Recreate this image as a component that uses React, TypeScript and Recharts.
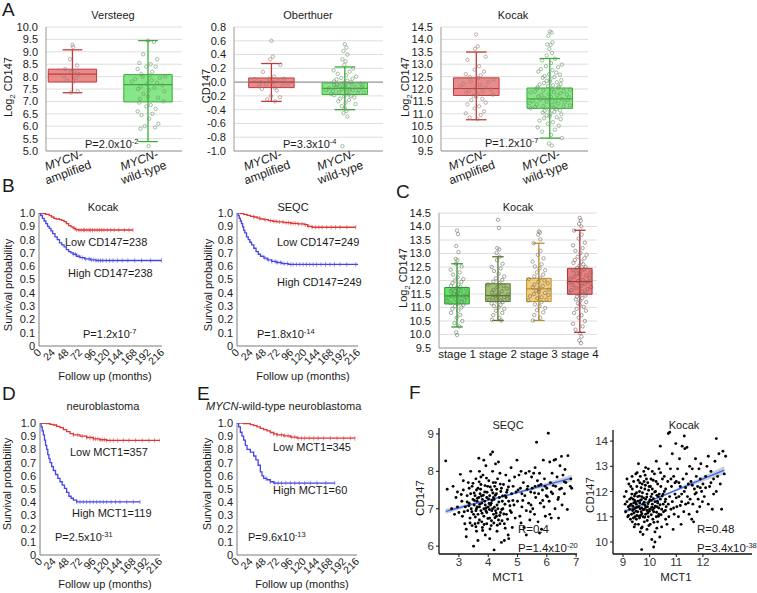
import React from 'react';
import {
  ComposedChart,
  XAxis,
  YAxis,
  CartesianGrid,
  Scatter,
  Line,
  Area,
  ReferenceArea,
  ReferenceLine,
} from 'recharts';

const FONT = '"Liberation Sans", Arial, sans-serif';

// ---------- A: CD147 by MYCN status ----------
const mycnGroups = ['amplified', 'wild-type'];

const versteegStats = [
  { lo: 7.35, q1: 7.78, med: 8.1, q3: 8.3, hi: 9.08 },
  { lo: 5.38, q1: 6.98, med: 7.68, q3: 8.08, hi: 9.45 },
];
const versteegAmp = [9.28, 9.2, 8.7, 8.45, 8.3, 8.22, 8.18, 8.1, 8.02, 7.95, 7.85, 7.8, 7.4, 7.35];
const versteegWt = [
  9.45, 9.4, 8.9, 8.7, 8.55, 8.5, 8.4, 8.4, 8.3, 8.2, 8.1, 8.05, 8.0, 8.0, 7.95, 7.9, 7.85, 7.8,
  7.75, 7.7, 7.65, 7.6, 7.55, 7.5, 7.45, 7.4, 7.3, 7.2, 7.15, 7.1, 7.0, 6.95, 6.85, 6.8, 6.7, 6.6,
  6.5, 6.45, 6.3, 6.1, 6.0, 5.95, 5.9, 5.2,
];

const oberthuerStats = [
  { lo: -0.28, q1: -0.08, med: 0.0, q3: 0.06, hi: 0.27 },
  { lo: -0.4, q1: -0.18, med: -0.09, q3: -0.01, hi: 0.22 },
];
const oberthuerAmp = [
  0.6, 0.37, 0.33, 0.25, 0.15, 0.08, 0.05, 0.05, 0.04, 0.02, 0.0, 0.0, -0.02, -0.03, -0.05, -0.06,
  -0.08, -0.1, -0.12, -0.2, -0.22, -0.25, -0.28,
];
const oberthuerWt = [
  0.55, 0.5, 0.45, 0.4, 0.33, 0.3, 0.25, 0.2, 0.17, 0.15, 0.12, 0.1, 0.08, 0.06, 0.05, 0.04, 0.02,
  0.01, 0.0, -0.01, -0.02, -0.03, -0.03, -0.04, -0.05, -0.05, -0.06, -0.07, -0.07, -0.08, -0.08,
  -0.09, -0.1, -0.1, -0.11, -0.12, -0.12, -0.13, -0.14, -0.15, -0.15, -0.16, -0.17, -0.18, -0.19,
  -0.2, -0.21, -0.22, -0.24, -0.26, -0.28, -0.3, -0.32, -0.35, -0.38, -0.42, -0.45, -0.5, -0.93,
];

const kocakStats = [
  { lo: 10.76, q1: 11.74, med: 12.02, q3: 12.45, hi: 13.49 },
  { lo: 10.02, q1: 11.22, med: 11.6, q3: 12.04, hi: 13.23 },
];
const kocakAmp = [
  14.2, 13.72, 13.62, 13.3, 13.18, 12.92, 12.78, 12.7, 12.6, 12.55, 12.48, 12.44, 12.38, 12.3, 12.27,
  12.2, 12.16, 12.1, 12.06, 12.02, 11.98, 11.93, 11.9, 11.86, 11.8, 11.77, 11.72, 11.68, 11.6, 11.55,
  11.45, 11.38, 11.3, 11.22, 11.1, 11.02, 10.95, 10.85, 10.78,
];
const kocakWt = [
  14.32, 14.28, 14.15, 13.88, 13.8, 13.78, 13.62, 13.45, 13.35, 13.22, 13.15, 13.05, 12.98, 12.92,
  12.88, 12.8, 12.76, 12.7, 12.66, 12.6, 12.58, 12.52, 12.48, 12.45, 12.4, 12.36, 12.33, 12.3, 12.27,
  12.24, 12.2, 12.18, 12.15, 12.12, 12.1, 12.07, 12.04, 12.02, 12.0, 11.97, 11.95, 11.92, 11.9,
  11.88, 11.86, 11.83, 11.8, 11.78, 11.76, 11.73, 11.7, 11.68, 11.66, 11.63, 11.61, 11.6, 11.57,
  11.55, 11.52, 11.5, 11.48, 11.46, 11.43, 11.41, 11.38, 11.36, 11.34, 11.31, 11.29, 11.27, 11.24,
  11.22, 11.2, 11.17, 11.14, 11.12, 11.08, 11.05, 11.02, 10.98, 10.94, 10.9, 10.86, 10.82, 10.78,
  10.72, 10.66, 10.6, 10.52, 10.45, 10.36, 10.28, 10.15, 10.02, 9.8, 9.72,
];

// ---------- C: CD147 by stage (Kocak) ----------
const stages = ['stage 1', 'stage 2', 'stage 3', 'stage 4'];
const stageStats = [
  { lo: 10.28, q1: 11.13, med: 11.43, q3: 11.74, hi: 12.62 },
  { lo: 10.52, q1: 11.22, med: 11.44, q3: 11.88, hi: 12.88 },
  { lo: 10.52, q1: 11.22, med: 11.69, q3: 12.08, hi: 13.38 },
  { lo: 10.08, q1: 11.49, med: 11.96, q3: 12.45, hi: 13.86 },
];
const stage1 = [
  13.85, 13.72, 13.28, 13.05, 12.8, 12.75, 12.62, 12.52, 12.4, 12.3, 12.22, 12.12, 12.05, 12.0, 11.95,
  11.9, 11.85, 11.8, 11.76, 11.72, 11.7, 11.66, 11.62, 11.6, 11.56, 11.52, 11.5, 11.47, 11.44, 11.42,
  11.39, 11.36, 11.33, 11.3, 11.27, 11.24, 11.2, 11.17, 11.14, 11.1, 11.05, 11.0, 10.95, 10.88, 10.8,
  10.72, 10.62, 10.5, 10.42, 10.3, 10.08, 9.98,
];
const stage2 = [
  14.25, 13.95, 13.2, 13.15, 13.02, 12.88, 12.75, 12.62, 12.5, 12.45, 12.35, 12.25, 12.15, 12.08,
  12.02, 11.96, 11.9, 11.85, 11.8, 11.75, 11.7, 11.65, 11.6, 11.55, 11.5, 11.47, 11.44, 11.41, 11.38,
  11.35, 11.32, 11.29, 11.26, 11.23, 11.2, 11.15, 11.1, 11.05, 11.0, 10.95, 10.88, 10.8, 10.72, 10.62,
  10.55, 10.52,
];
const stage3 = [
  13.82, 13.78, 13.7, 13.52, 13.38, 13.1, 12.95, 12.82, 12.7, 12.6, 12.52, 12.45, 12.38, 12.3, 12.22,
  12.15, 12.1, 12.05, 12.0, 11.95, 11.9, 11.85, 11.8, 11.75, 11.7, 11.66, 11.62, 11.58, 11.54, 11.5,
  11.46, 11.42, 11.38, 11.34, 11.3, 11.26, 11.2, 11.12, 11.05, 10.98, 10.9, 10.82, 10.72, 10.62, 10.52,
];
const stage4 = [
  14.32, 14.22, 14.1, 14.0, 13.85, 13.7, 13.55, 13.4, 13.3, 13.2, 13.1, 13.02, 12.95, 12.88, 12.82,
  12.76, 12.7, 12.65, 12.6, 12.55, 12.5, 12.46, 12.42, 12.38, 12.34, 12.3, 12.26, 12.22, 12.18, 12.14,
  12.1, 12.06, 12.02, 11.98, 11.95, 11.92, 11.88, 11.84, 11.8, 11.76, 11.72, 11.68, 11.64, 11.6,
  11.56, 11.52, 11.48, 11.44, 11.4, 11.35, 11.3, 11.25, 11.2, 11.15, 11.1, 11.02, 10.95, 10.88, 10.8,
  10.72, 10.62, 10.5, 10.4, 10.3, 10.18, 10.05, 9.92, 9.78, 9.68,
];

// ---------- B, D, E: Kaplan-Meier curves [month, survival] ----------
const kmMonths = [0, 24, 48, 72, 96, 120, 144, 168, 192, 216];
const kmProb = [0, 0.1, 0.2, 0.3, 0.4, 0.5, 0.6, 0.7, 0.8, 0.9, 1.0];

const kocakLow = [
  [0, 1], [5, 0.995], [12, 0.99], [18, 0.98], [22, 0.97], [26, 0.96], [30, 0.955], [36, 0.95],
  [40, 0.945], [44, 0.935], [48, 0.92], [52, 0.905], [56, 0.895], [60, 0.885], [64, 0.875],
  [70, 0.872], [165, 0.872],
];
const kocakLowCens = [62, 66, 70, 74, 78, 80, 84, 88, 90, 94, 98, 102, 106, 110, 114, 120, 126, 132, 140, 150, 158, 165];
const kocakHigh = [
  [0, 1], [3, 0.98], [6, 0.96], [9, 0.94], [12, 0.92], [15, 0.9], [18, 0.885], [21, 0.865],
  [24, 0.845], [28, 0.82], [32, 0.8], [36, 0.775], [40, 0.76], [44, 0.745], [48, 0.725], [52, 0.71],
  [56, 0.7], [60, 0.69], [66, 0.675], [72, 0.665], [80, 0.655], [90, 0.648], [100, 0.643], [215, 0.643],
];
const kocakHighCens = [60, 64, 70, 76, 82, 88, 92, 96, 100, 104, 108, 112, 118, 124, 130, 138, 146, 156, 168, 180, 196, 215];

const seqcLow = [
  [0, 1], [6, 0.995], [12, 0.99], [18, 0.982], [24, 0.975], [30, 0.97], [36, 0.962], [42, 0.955],
  [48, 0.95], [56, 0.942], [64, 0.937], [72, 0.933], [84, 0.928], [96, 0.922], [108, 0.918],
  [120, 0.912], [126, 0.9], [134, 0.893], [212, 0.893],
];
const seqcLowCens = [30, 40, 50, 60, 66, 70, 76, 82, 88, 92, 96, 100, 104, 110, 116, 122, 128, 134, 140, 146, 152, 160, 168, 176, 184, 196, 212];
const seqcHigh = [
  [0, 1], [2, 0.98], [4, 0.96], [6, 0.94], [8, 0.92], [10, 0.895], [12, 0.87], [14, 0.85], [17, 0.82],
  [20, 0.8], [23, 0.78], [26, 0.76], [30, 0.735], [34, 0.71], [38, 0.69], [42, 0.675], [48, 0.66],
  [54, 0.648], [62, 0.636], [70, 0.628], [80, 0.62], [92, 0.613], [216, 0.613],
];
const seqcHighCens = [50, 56, 62, 68, 72, 78, 84, 90, 96, 100, 106, 112, 118, 124, 130, 136, 142, 150, 158, 166, 174, 184, 196, 212];

const nbLow = [
  [0, 1], [6, 0.998], [12, 0.995], [18, 0.99], [24, 0.985], [30, 0.975], [36, 0.965], [42, 0.95],
  [48, 0.935], [54, 0.92], [60, 0.91], [72, 0.9], [84, 0.89], [96, 0.88], [108, 0.873], [120, 0.868],
  [216, 0.868],
];
const nbLowCens = [60, 68, 76, 84, 90, 96, 100, 104, 108, 112, 116, 120, 126, 132, 140, 150, 160, 172, 184, 196, 206, 216];
const nbHigh = [
  [0, 1], [2, 0.97], [4, 0.94], [6, 0.91], [8, 0.87], [10, 0.83], [12, 0.8], [14, 0.76], [16, 0.73],
  [18, 0.7], [21, 0.67], [24, 0.64], [28, 0.61], [32, 0.58], [36, 0.555], [40, 0.53], [44, 0.505],
  [48, 0.475], [52, 0.445], [56, 0.43], [60, 0.415], [66, 0.402], [180, 0.402],
];
const nbHighCens = [66, 72, 78, 84, 90, 96, 102, 108, 114, 120, 128, 136, 144, 156, 168, 180];

const wtLow = [
  [0, 1], [12, 0.995], [24, 0.988], [30, 0.98], [36, 0.97], [42, 0.96], [48, 0.95], [54, 0.94],
  [60, 0.928], [66, 0.918], [72, 0.91], [84, 0.903], [96, 0.893], [108, 0.885], [212, 0.882],
];
const wtLowCens = [66, 72, 80, 86, 92, 98, 104, 110, 116, 122, 130, 138, 146, 156, 168, 180, 192, 204, 212];
const wtHigh = [
  [0, 1], [3, 0.97], [6, 0.93], [9, 0.9], [12, 0.87], [15, 0.83], [18, 0.8], [24, 0.78], [30, 0.75],
  [34, 0.72], [38, 0.68], [42, 0.63], [45, 0.6], [48, 0.58], [54, 0.57], [60, 0.555], [66, 0.545],
  [176, 0.545],
];
const wtHighCens = [52, 60, 68, 74, 80, 88, 96, 104, 112, 122, 132, 144, 160, 176];

// ---------- F: CD147 vs MCT1 ----------
const seqcPts = [
  [2.55, 8.28], [2.6, 7.52], [2.75, 7.0], [2.85, 6.85], [2.9, 7.3], [2.95, 7.05], [2.8, 7.6], [3.0, 6.9], [2.95, 7.45],
  [3.05, 7.92], [3.1, 7.2], [3.12, 6.8], [3.15, 7.5], [3.2, 6.6], [3.22, 7.05], [3.25, 6.45], [3.28, 7.35],
  [3.3, 6.95], [3.32, 7.7], [3.35, 7.15], [3.38, 6.75], [3.4, 7.4], [3.42, 7.0], [3.45, 6.55], [3.45, 7.6],
  [3.48, 7.25], [3.5, 6.85], [3.5, 6.0], [3.25, 6.25], [3.35, 7.55], [3.15, 7.75], [3.4, 8.0],
  [3.52, 7.1], [3.55, 7.35], [3.55, 6.6], [3.58, 7.8], [3.6, 7.0], [3.6, 6.4], [3.62, 7.2], [3.65, 6.85],
  [3.65, 7.55], [3.68, 8.35], [3.7, 7.05], [3.7, 6.7], [3.72, 7.4], [3.75, 6.95], [3.75, 7.65], [3.78, 7.15],
  [3.8, 6.5], [3.8, 7.25], [3.82, 7.9], [3.85, 7.0], [3.85, 6.8], [3.88, 7.45], [3.9, 7.1], [3.9, 6.3],
  [3.92, 8.15], [3.95, 7.3], [3.95, 6.9], [3.98, 7.6], [3.7, 8.0], [3.6, 7.5], [3.85, 8.3], [3.65, 6.15],
  [3.95, 6.6], [3.75, 7.85], [3.58, 6.95], [3.68, 7.3], [3.78, 6.65], [3.88, 7.2], [3.62, 7.05], [3.92, 6.95],
  [4.0, 7.05], [4.02, 7.75], [4.05, 6.75], [4.05, 7.35], [4.08, 8.45], [4.1, 7.15], [4.1, 6.55], [4.12, 7.5],
  [4.15, 7.0], [4.15, 8.0], [4.18, 6.85], [4.2, 7.25], [4.2, 5.9], [4.22, 7.6], [4.25, 6.95], [4.25, 8.2],
  [4.28, 7.4], [4.3, 6.4], [4.3, 7.1], [4.32, 7.8], [4.35, 6.7], [4.38, 7.3], [4.4, 7.95], [4.42, 6.9],
  [4.45, 7.55], [4.45, 6.1], [4.48, 7.2], [4.15, 8.52], [4.35, 8.25], [4.05, 6.2], [4.25, 7.7], [4.4, 6.6],
  [4.08, 7.1], [4.18, 7.3], [4.28, 6.8], [4.12, 6.95],
  [4.5, 7.0], [4.52, 7.65], [4.55, 6.6], [4.58, 7.35], [4.6, 7.9], [4.62, 6.85], [4.65, 7.5], [4.68, 6.3],
  [4.7, 7.2], [4.72, 7.75], [4.75, 6.95], [4.78, 8.1], [4.8, 7.4], [4.82, 6.5], [4.85, 7.6], [4.88, 7.1],
  [4.9, 7.85], [4.92, 6.75], [4.95, 7.45], [4.98, 8.3], [4.55, 6.15], [4.7, 6.2],
  [5.0, 7.2], [5.05, 7.9], [5.08, 6.8], [5.1, 7.55], [5.12, 8.0], [5.15, 7.05], [5.2, 7.7], [5.22, 6.5],
  [5.25, 7.35], [5.28, 7.95], [5.3, 6.95], [5.35, 7.6], [5.38, 7.15], [5.4, 8.0], [5.42, 6.7], [5.45, 7.45],
  [5.48, 7.85], [5.3, 6.3], [5.15, 7.4],
  [5.5, 7.55], [5.52, 7.0], [5.55, 7.95], [5.58, 6.85], [5.6, 7.6], [5.62, 7.3], [5.65, 8.78], [5.68, 7.75],
  [5.7, 6.65], [5.72, 7.4], [5.75, 7.95], [5.78, 7.15], [5.8, 7.65], [5.82, 6.45], [5.85, 7.5], [5.88, 8.3],
  [5.9, 7.05], [5.92, 7.8], [5.95, 6.8], [5.98, 7.35], [5.6, 8.1], [5.75, 6.35],
  [6.0, 7.55], [6.05, 9.02], [6.08, 7.2], [6.1, 8.25], [6.12, 7.7], [6.15, 6.75], [6.18, 7.95], [6.2, 7.4],
  [6.25, 8.3], [6.28, 7.0], [6.3, 7.6], [6.35, 7.85], [6.38, 7.25], [6.4, 6.75], [6.45, 8.15], [6.5, 7.55],
  [6.52, 7.1], [6.55, 7.9], [6.6, 7.4], [6.62, 8.05], [6.65, 7.7], [6.7, 6.98], [6.72, 8.42], [6.8, 7.6],
  [6.82, 7.8], [6.85, 7.55], [6.5, 8.4], [6.3, 8.32], [6.1, 6.85], [6.4, 7.3],
  [3.34, 7.08], [3.44, 6.92], [3.52, 7.42], [3.56, 6.78], [3.63, 7.28], [3.66, 6.62], [3.71, 7.12], [3.74, 7.52],
  [3.79, 6.88], [3.83, 7.36], [3.86, 6.58], [3.89, 7.62], [3.93, 7.02], [3.96, 7.44], [3.99, 6.74], [4.01, 7.26],
  [4.04, 6.98], [4.07, 7.58], [4.11, 6.68], [4.13, 7.22], [4.16, 7.42], [4.19, 6.62], [4.21, 7.04], [4.24, 7.36],
  [4.27, 6.88], [4.29, 7.52], [4.33, 7.0], [4.36, 7.18], [4.39, 6.82], [4.43, 7.46], [4.46, 6.98], [4.49, 7.34],
  [4.53, 6.86], [4.57, 7.12], [4.61, 7.3], [4.66, 6.72], [4.69, 7.58], [4.74, 7.08], [4.79, 6.9], [4.84, 7.22],
  [3.48, 7.68], [3.58, 6.52], [3.69, 7.72], [3.81, 6.42], [3.94, 7.82], [4.06, 6.46], [4.17, 7.7], [4.31, 6.56],
  [4.41, 7.66], [4.58, 6.48], [3.38, 6.62], [3.28, 7.18], [3.18, 6.92], [3.08, 7.38], [3.53, 7.22], [3.77, 7.34],
  [4.03, 7.14], [4.23, 6.76], [4.47, 6.68], [4.63, 7.44], [5.02, 7.5], [5.18, 7.22], [5.33, 7.52], [5.46, 7.1],
  [5.58, 7.42], [5.72, 7.62], [5.86, 7.22], [6.02, 7.32], [6.22, 7.62], [6.44, 7.52], [6.6, 7.72], [5.12, 6.62],
  [5.44, 6.92], [5.94, 7.6], [6.15, 7.45],
];
const seqcFit = [
  // [x, lower, fit, upper]
  [2.55, 6.86, 6.93, 7.0], [3.5, 7.1, 7.13, 7.17], [4.5, 7.3, 7.33, 7.36], [5.5, 7.5, 7.54, 7.58], [6.85, 7.73, 7.82, 7.91],
];

const kocakPts = [
  [9.05, 11.8], [9.08, 11.5], [9.1, 11.2], [9.12, 12.0], [9.15, 11.6], [9.18, 11.0], [9.2, 11.4], [9.22, 12.3],
  [9.25, 11.7], [9.28, 10.9], [9.15, 12.5], [9.25, 11.3],
  [9.3, 11.5], [9.32, 11.1], [9.35, 12.1], [9.35, 10.8], [9.38, 11.7], [9.4, 11.3], [9.4, 12.4], [9.42, 10.6],
  [9.45, 11.9], [9.45, 11.0], [9.48, 12.7], [9.5, 11.5], [9.5, 10.9], [9.52, 12.2], [9.55, 11.2], [9.55, 11.8],
  [9.58, 10.7], [9.58, 13.1], [9.4, 11.55], [9.33, 11.9], [9.47, 11.35], [9.36, 11.25], [9.44, 11.65], [9.52, 11.05],
  [9.6, 11.4], [9.62, 12.0], [9.62, 10.95], [9.65, 11.65], [9.65, 12.6], [9.68, 11.2], [9.7, 9.7], [9.7, 11.8],
  [9.72, 10.6], [9.72, 12.3], [9.75, 11.0], [9.75, 11.5], [9.78, 12.8], [9.8, 11.3], [9.8, 10.8], [9.82, 12.1],
  [9.85, 11.7], [9.85, 11.1], [9.88, 12.5], [9.9, 10.5], [9.9, 11.9], [9.92, 11.4], [9.95, 12.9], [9.95, 11.0],
  [9.98, 11.6], [9.98, 12.2], [9.65, 10.4], [9.85, 12.95], [9.75, 10.3], [9.9, 11.25], [9.7, 11.35],
  [9.63, 11.55], [9.77, 11.75], [9.83, 11.45], [9.68, 12.15], [9.93, 11.15],
  [10.0, 11.3], [10.02, 10.7], [10.05, 11.8], [10.05, 12.5], [10.08, 10.1], [10.1, 11.5], [10.1, 12.1], [10.12, 10.9],
  [10.15, 11.2], [10.15, 9.8], [10.18, 12.7], [10.2, 11.6], [10.2, 10.4], [10.22, 12.0], [10.25, 11.0], [10.25, 13.2],
  [10.28, 11.4], [10.3, 12.3], [10.3, 10.8], [10.32, 11.8], [10.35, 12.9], [10.35, 11.1], [10.38, 10.2], [10.4, 11.7],
  [10.4, 13.8], [10.42, 12.2], [10.45, 11.3], [10.45, 10.6], [10.48, 12.5], [10.5, 11.9], [10.2, 10.0], [10.1, 12.8],
  [10.3, 11.55], [10.07, 11.65], [10.17, 11.35], [10.27, 11.85],
  [10.52, 11.2], [10.55, 12.6], [10.58, 11.6], [10.6, 10.9], [10.6, 12.1], [10.62, 11.4], [10.65, 13.1], [10.68, 12.4],
  [10.7, 14.3], [10.72, 11.0], [10.75, 14.35], [10.75, 11.8], [10.78, 12.9], [10.8, 11.3], [10.82, 12.2], [10.85, 11.6],
  [10.85, 13.5], [10.88, 10.5], [10.9, 12.6], [10.92, 11.1], [10.95, 11.9], [10.98, 13.9], [10.65, 10.7], [10.95, 12.35],
  [11.0, 12.4], [11.02, 11.4], [11.05, 12.9], [11.08, 11.0], [11.1, 11.8], [11.12, 13.3], [11.15, 12.2], [11.18, 10.7],
  [11.2, 11.6], [11.22, 13.8], [11.25, 12.5], [11.28, 11.2], [11.3, 14.2], [11.3, 12.0], [11.32, 13.7], [11.35, 11.5],
  [11.38, 12.7], [11.4, 13.75], [11.42, 11.8], [11.45, 12.3], [11.48, 11.1], [11.5, 13.0], [11.15, 11.45],
  [11.52, 11.7], [11.55, 12.4], [11.58, 10.9], [11.6, 12.9], [11.62, 11.5], [11.65, 10.8], [11.68, 12.1], [11.7, 11.9],
  [11.72, 13.3], [11.75, 12.6], [11.78, 11.2], [11.8, 12.2], [11.82, 11.7], [11.85, 12.9], [11.88, 11.4], [11.9, 12.5],
  [11.92, 13.1], [11.95, 12.0], [11.98, 11.6],
  [12.0, 12.3], [12.05, 11.8], [12.1, 12.6], [12.15, 13.0], [12.2, 11.5], [12.25, 12.2], [12.3, 12.8], [12.35, 11.3],
  [12.4, 12.5], [12.45, 13.2], [12.5, 14.1], [12.5, 12.0], [12.55, 12.6], [12.6, 13.5], [12.65, 12.3], [12.7, 11.3],
  [12.75, 13.6], [12.8, 12.7], [12.85, 13.4], [12.2, 13.4], [12.4, 11.9],
  [9.26, 11.45], [9.31, 11.75], [9.37, 11.42], [9.41, 11.15], [9.43, 11.82], [9.46, 11.58], [9.49, 11.22], [9.51, 11.95],
  [9.53, 11.38], [9.56, 11.62], [9.59, 11.02], [9.61, 11.82], [9.64, 11.32], [9.66, 11.05], [9.69, 11.68], [9.71, 11.12],
  [9.73, 11.95], [9.76, 11.28], [9.79, 11.58], [9.81, 10.98], [9.84, 12.25], [9.86, 11.38], [9.89, 11.78], [9.91, 10.85],
  [9.94, 11.52], [9.96, 12.05], [9.99, 11.22], [10.01, 11.68], [10.03, 12.2], [10.06, 11.08], [10.09, 11.9], [10.11, 11.28],
  [10.14, 11.72], [10.16, 10.78], [10.19, 11.98], [10.21, 11.42], [10.24, 12.4], [10.26, 11.18], [10.29, 11.62], [10.33, 11.02],
  [10.36, 11.9], [10.39, 11.48], [10.43, 11.08], [10.47, 11.82], [10.51, 11.5], [10.55, 12.0], [10.59, 11.25], [9.34, 12.6],
  [9.46, 10.7], [9.57, 12.45], [9.69, 10.55], [9.83, 12.65], [9.97, 10.65], [10.13, 12.45], [10.27, 10.55], [10.41, 12.75],
  [9.21, 11.05], [9.29, 12.2], [9.39, 10.95], [9.53, 12.75], [9.63, 12.35], [9.79, 12.4], [9.93, 12.35], [10.08, 11.38],
  [10.34, 11.35], [10.6, 11.7], [10.7, 11.5], [10.8, 12.5], [10.9, 11.35], [11.0, 11.75], [11.1, 12.35], [11.2, 11.9],
  [11.35, 12.15], [11.45, 11.55], [11.6, 12.25], [11.75, 11.95], [11.9, 12.15], [12.1, 12.15], [12.3, 12.35],
];
const kocakFit = [
  [9.05, 11.1, 11.2, 11.3], [10.0, 11.58, 11.62, 11.66], [11.0, 12.01, 12.06, 12.11], [12.0, 12.4, 12.5, 12.6], [12.8, 12.69, 12.85, 13.01],
];

// ---------- drawing helpers ----------
type Rect = { x: number; y: number; w: number; h: number };
type Pad = { l: number; t: number; r: number; b: number };
type Stat = { lo: number; q1: number; med: number; q3: number; hi: number };
type Look = { fill: string; stroke: string; dot: string; spread: number };

// fixed order used to spread the dots sideways inside a box
const JITTER = [0, 0.55, -0.45, 0.85, -0.8, 0.25, -0.15, 0.7, -0.95, 0.4, -0.6, 0.1, 0.95, -0.3, 0.65, -0.7, 0.2, -0.9, 0.5, -0.05, 0.8, -0.4, 0.35, -0.55, 0.05, 0.9, -0.25];

function jitterPoints(values: number[], pos: number, s: Stat, spread: number) {
  return values.map((v, i) => {
    const inBox = v >= s.q1 && v <= s.q3;
    const inWhisk = v >= s.lo && v <= s.hi;
    const amp = inBox ? spread : inWhisk ? spread * 0.6 : spread * 0.15;
    return { x: pos + JITTER[i % JITTER.length] * amp, y: v };
  });
}

const place = (r: Rect, p: Pad): React.CSSProperties => ({
  position: 'absolute',
  left: r.x - p.l,
  top: r.y - p.t,
});

const tickFont = { fontSize: 11, fill: '#1a1a1a', fontFamily: FONT };

const MycnTick = (props: any) => {
  const { x, y, payload } = props;
  const sub = mycnGroups[Math.round(payload.value) - 1];
  return (
    <g transform={`translate(${x - 7.5},${y + 11}) rotate(-20)`}>
      <text textAnchor="middle" fontSize={12} fontFamily={FONT} fill="#1a1a1a">
        <tspan x={0} dy={0} fontStyle="italic">MYCN-</tspan>
        <tspan x={0} dy={13}>{sub}</tspan>
      </text>
    </g>
  );
};

const MonthTick = (props: any) => {
  const { x, y, payload } = props;
  const px = x + 3;
  const py = y + 7;
  return (
    <text x={px} y={py} transform={`rotate(-45 ${px} ${py})`} textAnchor="end" fontSize={10.5} fontFamily={FONT} fill="#1a1a1a">
      {payload.value}
    </text>
  );
};

function BoxPanel(props: {
  rect: Rect;
  pad: Pad;
  xDomain: [number, number];
  yDomain: [number, number];
  yTicks: number[];
  stats: Stat[];
  groups: number[][];
  looks: Look[];
  half: number;
  cap: number;
  tick: any;
  xFormat?: (v: number) => string;
  zeroLine?: boolean;
}) {
  const { rect, pad, xDomain, yDomain, yTicks, stats, groups, looks, half, cap, tick, xFormat, zeroLine } = props;
  const positions = stats.map((_, i) => i + 1);
  return (
    <div style={place(rect, pad)}>
      <ComposedChart
        width={rect.w + pad.l + pad.r}
        height={rect.h + pad.t + pad.b}
        margin={{ top: pad.t, right: pad.r, bottom: 0, left: 0 }}
      >
        <CartesianGrid vertical={false} stroke="#dedede" />
        <XAxis
          type="number"
          dataKey="x"
          domain={xDomain}
          ticks={positions}
          allowDataOverflow
          height={pad.b}
          interval={0}
          axisLine={{ stroke: '#9a9a9a' }}
          tickLine={false}
          tickSize={0}
          tickMargin={2}
          tick={tick}
          tickFormatter={xFormat}
        />
        <YAxis
          type="number"
          dataKey="y"
          domain={yDomain}
          ticks={yTicks}
          allowDataOverflow
          width={pad.l}
          interval={0}
          axisLine={{ stroke: '#9a9a9a' }}
          tickLine={false}
          tick={tickFont}
          tickFormatter={(v: number) => v.toFixed(1)}
        />
        {zeroLine && <ReferenceLine y={0} stroke="#8c8c8c" />}
        {stats.map((s, i) => {
          const p = i + 1;
          const lk = looks[i];
          return [
            <ReferenceLine key={`w${i}`} segment={[{ x: p, y: s.lo }, { x: p, y: s.hi }]} stroke={lk.stroke} strokeWidth={1.3} />,
            <ReferenceLine key={`cl${i}`} segment={[{ x: p - cap, y: s.lo }, { x: p + cap, y: s.lo }]} stroke={lk.stroke} strokeWidth={1.3} />,
            <ReferenceLine key={`ch${i}`} segment={[{ x: p - cap, y: s.hi }, { x: p + cap, y: s.hi }]} stroke={lk.stroke} strokeWidth={1.3} />,
            <ReferenceArea key={`b${i}`} x1={p - half} x2={p + half} y1={s.q1} y2={s.q3} fill={lk.fill} fillOpacity={0.78} stroke={lk.stroke} strokeWidth={1} />,
            <ReferenceLine key={`m${i}`} segment={[{ x: p - half, y: s.med }, { x: p + half, y: s.med }]} stroke={lk.stroke} strokeWidth={1.2} />,
          ];
        })}
        {groups.map((vals, i) => (
          <Scatter
            key={`p${i}`}
            data={jitterPoints(vals, i + 1, stats[i], looks[i].spread)}
            dataKey="y"
            isAnimationActive={false}
            shape={(p: any) => (
              <circle cx={p.cx} cy={p.cy} r={1.7} fill="none" stroke={looks[i].dot} strokeWidth={0.7} strokeOpacity={0.85} />
            )}
          />
        ))}
      </ComposedChart>
    </div>
  );
}

const stepAt = (curve: number[][], t: number) => {
  let s = 1;
  for (const [ti, si] of curve) if (ti <= t) s = si;
  return s;
};

const RED = '#e03636';
const BLUE = '#4545e8';

function KmPanel(props: { rect: Rect; low: number[][]; high: number[][]; lowCens: number[]; highCens: number[] }) {
  const { rect, low, high, lowCens, highCens } = props;
  const pad: Pad = { l: 36, t: 6, r: 10, b: 30 };
  const series = [
    { curve: low, cens: lowCens, color: RED },
    { curve: high, cens: highCens, color: BLUE },
  ];
  return (
    <div style={place(rect, pad)}>
      <ComposedChart
        width={rect.w + pad.l + pad.r}
        height={rect.h + pad.t + pad.b}
        margin={{ top: pad.t, right: pad.r, bottom: 0, left: 0 }}
      >
        <XAxis
          type="number"
          dataKey="x"
          domain={[0, 216]}
          ticks={kmMonths}
          interval={0}
          allowDataOverflow
          height={pad.b}
          axisLine={{ stroke: '#7a7a7a' }}
          tickLine={false}
          tickSize={0}
          tickMargin={0}
          tick={<MonthTick />}
        />
        <YAxis
          type="number"
          dataKey="y"
          domain={[0, 1]}
          ticks={kmProb}
          interval={0}
          allowDataOverflow
          width={pad.l}
          axisLine={{ stroke: '#7a7a7a' }}
          tickLine={false}
          tickSize={2}
          tickMargin={2}
          tick={tickFont}
          tickFormatter={(v: number) => (v === 0 ? '0' : v.toFixed(1))}
        />
        {series.map((s, i) => (
          <Line
            key={`l${i}`}
            data={s.curve.map(([t, v]) => ({ x: t, y: v }))}
            dataKey="y"
            type="stepAfter"
            stroke={s.color}
            strokeWidth={1.3}
            dot={false}
            isAnimationActive={false}
          />
        ))}
        {series.map((s, i) => (
          <Scatter
            key={`c${i}`}
            data={s.cens.map((t) => ({ x: t, y: stepAt(s.curve, t) }))}
            dataKey="y"
            isAnimationActive={false}
            shape={(p: any) => (
              <line x1={p.cx} x2={p.cx} y1={p.cy - 2.2} y2={p.cy + 2.2} stroke={s.color} strokeWidth={0.7} strokeOpacity={0.8} />
            )}
          />
        ))}
      </ComposedChart>
    </div>
  );
}

function CorrPanel(props: {
  rect: Rect;
  pts: number[][];
  fit: number[][];
  xDomain: [number, number];
  yDomain: [number, number];
  xTicks: number[];
  yTicks: number[];
}) {
  const { rect, pts, fit, xDomain, yDomain, xTicks, yTicks } = props;
  const pad: Pad = { l: 24, t: 4, r: 6, b: 20 };
  const fitData = fit.map(([x, lo, y, hi]) => ({ x, y, band: [lo, hi] }));
  const axisTick = { fontSize: 11.5, fill: '#333', fontFamily: FONT };
  return (
    <div style={place(rect, pad)}>
      <ComposedChart
        width={rect.w + pad.l + pad.r}
        height={rect.h + pad.t + pad.b}
        margin={{ top: pad.t, right: pad.r, bottom: 0, left: 0 }}
      >
        <XAxis
          type="number"
          dataKey="x"
          domain={xDomain}
          ticks={xTicks}
          interval={0}
          allowDataOverflow
          height={pad.b}
          axisLine={{ stroke: '#111', strokeWidth: 1.3 }}
          tickLine={{ stroke: '#111' }}
          tickSize={3}
          tickMargin={1}
          tick={axisTick}
        />
        <YAxis
          type="number"
          dataKey="y"
          domain={yDomain}
          ticks={yTicks}
          interval={0}
          allowDataOverflow
          width={pad.l}
          axisLine={{ stroke: '#111', strokeWidth: 1.3 }}
          tickLine={{ stroke: '#111' }}
          tickSize={3}
          tickMargin={2}
          tick={axisTick}
        />
        <Scatter
          data={pts.map(([x, y]) => ({ x, y }))}
          dataKey="y"
          isAnimationActive={false}
          shape={(p: any) => <circle cx={p.cx} cy={p.cy} r={1.45} fill="#000" />}
        />
        <Area data={fitData} dataKey="band" type="monotone" stroke="none" fill="#a8a8a8" fillOpacity={0.55} isAnimationActive={false} />
        <Line data={fitData} dataKey="y" type="linear" stroke="#3366ff" strokeWidth={1.4} dot={false} isAnimationActive={false} />
      </ComposedChart>
    </div>
  );
}

// ---------- text overlay ----------
const T = (p: any) => {
  const { x, y, anchor, size, children, rot, ...rest } = p;
  return (
    <text
      x={x}
      y={y}
      textAnchor={anchor || 'start'}
      fontSize={size || 11}
      fontFamily={FONT}
      fill="#1a1a1a"
      transform={rot ? `rotate(-90 ${x} ${y})` : undefined}
      {...rest}
    >
      {children}
    </text>
  );
};
const Sup = ({ children }: any) => (
  <tspan fontSize={7.5} dy={-4.5}>
    {children}
  </tspan>
);
const Log2 = () => (
  <>
    Log<tspan fontSize={7.5} dy={3}>2</tspan>
    <tspan dy={-3}> CD147</tspan>
  </>
);

function Overlay() {
  return (
    <svg width={757} height={593} style={{ position: 'absolute', left: 0, top: 0, pointerEvents: 'none' }}>
      {/* panel letters */}
      <T x={2} y={16} size={19}>A</T>
      <T x={2} y={192} size={19}>B</T>
      <T x={396} y={198} size={19}>C</T>
      <T x={2} y={400} size={19}>D</T>
      <T x={197} y={400} size={19}>E</T>
      <T x={409} y={399} size={19}>F</T>

      {/* titles */}
      <T x={113} y={19} anchor="middle">Versteeg</T>
      <T x={308} y={19} anchor="middle">Oberthuer</T>
      <T x={513} y={19} anchor="middle">Kocak</T>
      <T x={103} y={211} anchor="middle">Kocak</T>
      <T x={293} y={211} anchor="middle">SEQC</T>
      <T x={518} y={211} anchor="middle">Kocak</T>
      <T x={103} y={410} anchor="middle">neuroblastoma</T>
      <T x={206} y={410}>
        <tspan fontStyle="italic">MYCN</tspan>-wild-type neuroblastoma
      </T>
      <T x={508} y={429} anchor="middle">SEQC</T>
      <T x={684} y={429} anchor="middle">Kocak</T>

      {/* y-axis titles */}
      <T x={12} y={87} anchor="middle" rot><Log2 /></T>
      <T x={210} y={86} anchor="middle" rot>CD147</T>
      <T x={409} y={87} anchor="middle" rot><Log2 /></T>
      <T x={407} y={278} anchor="middle" rot><Log2 /></T>
      <T x={12} y={285} anchor="middle" rot>Survival probability</T>
      <T x={212} y={285} anchor="middle" rot>Survival probability</T>
      <T x={11} y={484} anchor="middle" rot>Survival probability</T>
      <T x={211} y={484} anchor="middle" rot>Survival probability</T>
      <T x={424} y={498} anchor="middle" rot size={11.5}>CD147</T>
      <T x={594} y={495} anchor="middle" rot size={11.5}>CD147</T>

      {/* x-axis titles */}
      <T x={105} y={380} anchor="middle">Follow up (months)</T>
      <T x={303} y={380} anchor="middle">Follow up (months)</T>
      <T x={105} y={588} anchor="middle">Follow up (months)</T>
      <T x={302} y={588} anchor="middle">Follow up (months)</T>
      <T x={508} y={581} anchor="middle" size={11.5}>MCT1</T>
      <T x={676} y={581} anchor="middle" size={11.5}>MCT1</T>

      {/* group labels */}
      <T x={65} y={246}>Low CD147=238</T>
      <T x={68} y={277}>High CD147=238</T>
      <T x={277} y={246}>Low CD147=249</T>
      <T x={277} y={286}>High CD147=249</T>
      <T x={70} y={456}>Low MCT1=357</T>
      <T x={72} y={517}>High MCT1=119</T>
      <T x={273} y={451}>Low MCT1=345</T>
      <T x={273} y={494}>High MCT1=60</T>

      {/* statistics */}
      <T x={85} y={148}>P=2.0x10<Sup>-2</Sup></T>
      <T x={283} y={148}>P=3.3x10<Sup>-4</Sup></T>
      <T x={485} y={147}>P=1.2x10<Sup>-7</Sup></T>
      <T x={83} y={338}>P=1.2x10<Sup>-7</Sup></T>
      <T x={257} y={338}>P=1.8x10<Sup>-14</Sup></T>
      <T x={55} y={541}>P=2.5x10<Sup>-31</Sup></T>
      <T x={248} y={541}>P=9.6x10<Sup>-13</Sup></T>
      <T x={518} y={533} size={11.5}>R=0.4</T>
      <T x={518} y={552} size={11.5}>P=1.4x10<Sup>-20</Sup></T>
      <T x={697} y={533} size={11.5}>R=0.48</T>
      <T x={697} y={552} size={11.5}>P=3.4x10<Sup>-38</Sup></T>
    </svg>
  );
}

const boxPad: Pad = { l: 46, t: 10, r: 4, b: 42 };
const ampLook = (spread: number): Look => ({ fill: '#e46a6a', stroke: '#c23b3b', dot: '#9a7a7a', spread });
const wtLook = (spread: number): Look => ({ fill: '#66df66', stroke: '#35b035', dot: '#6a946a', spread });
const stageLooks: Look[] = [
  { fill: '#3fd83f', stroke: '#2a9a2a', dot: '#5f7f5f', spread: 0.27 },
  { fill: '#86b04c', stroke: '#557a2a', dot: '#6b6b5b', spread: 0.27 },
  { fill: '#f0be5a', stroke: '#b8902e', dot: '#7a7060', spread: 0.27 },
  { fill: '#e55b5b', stroke: '#b53232', dot: '#7a6060', spread: 0.29 },
];

export default function App() {
  return (
    <div style={{ position: 'absolute', left: 0, top: 0, width: 757, height: 593, background: '#fff', overflow: 'hidden' }}>
      <BoxPanel
        rect={{ x: 46, y: 27, w: 136, h: 124 }}
        pad={boxPad}
        xDomain={[0.65, 2.45]}
        yDomain={[5, 10]}
        yTicks={[5, 5.5, 6, 6.5, 7, 7.5, 8, 8.5, 9, 9.5, 10]}
        stats={versteegStats}
        groups={[versteegAmp, versteegWt]}
        looks={[ampLook(0.12), wtLook(0.24)]}
        half={0.32}
        cap={0.13}
        tick={<MycnTick />}
      />
      <BoxPanel
        rect={{ x: 234, y: 27, w: 149, h: 124 }}
        pad={boxPad}
        xDomain={[0.49, 2.52]}
        yDomain={[-1, 0.8]}
        yTicks={[-1, -0.8, -0.6, -0.4, -0.2, 0, 0.2, 0.4, 0.6, 0.8]}
        stats={oberthuerStats}
        groups={[oberthuerAmp, oberthuerWt]}
        looks={[ampLook(0.24), wtLook(0.27)]}
        half={0.31}
        cap={0.14}
        tick={<MycnTick />}
        zeroLine
      />
      <BoxPanel
        rect={{ x: 441, y: 27, w: 147, h: 124 }}
        pad={boxPad}
        xDomain={[0.52, 2.52]}
        yDomain={[9.5, 14.5]}
        yTicks={[9.5, 10, 10.5, 11, 11.5, 12, 12.5, 13, 13.5, 14, 14.5]}
        stats={kocakStats}
        groups={[kocakAmp, kocakWt]}
        looks={[ampLook(0.25), wtLook(0.29)]}
        half={0.31}
        cap={0.14}
        tick={<MycnTick />}
      />

      <KmPanel rect={{ x: 39, y: 213, w: 123, h: 133 }} low={kocakLow} high={kocakHigh} lowCens={kocakLowCens} highCens={kocakHighCens} />
      <KmPanel rect={{ x: 237, y: 213, w: 121, h: 133 }} low={seqcLow} high={seqcHigh} lowCens={seqcLowCens} highCens={seqcHighCens} />
      <KmPanel rect={{ x: 40, y: 423, w: 120, h: 132 }} low={nbLow} high={nbHigh} lowCens={nbLowCens} highCens={nbHighCens} />
      <KmPanel rect={{ x: 237, y: 423, w: 120, h: 132 }} low={wtLow} high={wtHigh} lowCens={wtLowCens} highCens={wtHighCens} />

      <BoxPanel
        rect={{ x: 439, y: 213, w: 158, h: 135 }}
        pad={{ l: 40, t: 6, r: 8, b: 22 }}
        xDomain={[0.56, 4.42]}
        yDomain={[9.5, 14.5]}
        yTicks={[9.5, 10, 10.5, 11, 11.5, 12, 12.5, 13, 13.5, 14, 14.5]}
        stats={stageStats}
        groups={[stage1, stage2, stage3, stage4]}
        looks={stageLooks}
        half={0.3}
        cap={0.14}
        tick={{ ...tickFont, fontSize: 11.5 }}
        xFormat={(v: number) => stages[Math.round(v) - 1]}
      />

      <CorrPanel
        rect={{ x: 439, y: 428, w: 138, h: 126 }}
        pts={seqcPts}
        fit={seqcFit}
        xDomain={[2.32, 7.03]}
        yDomain={[5.79, 9.16]}
        xTicks={[3, 4, 5, 6, 7]}
        yTicks={[6, 7, 8, 9]}
      />
      <CorrPanel
        rect={{ x: 613, y: 430, w: 139, h: 124 }}
        pts={kocakPts}
        fit={kocakFit}
        xDomain={[8.625, 13.84]}
        yDomain={[9.525, 14.44]}
        xTicks={[9, 10, 11, 12]}
        yTicks={[10, 11, 12, 13, 14]}
      />

      <Overlay />
    </div>
  );
}
